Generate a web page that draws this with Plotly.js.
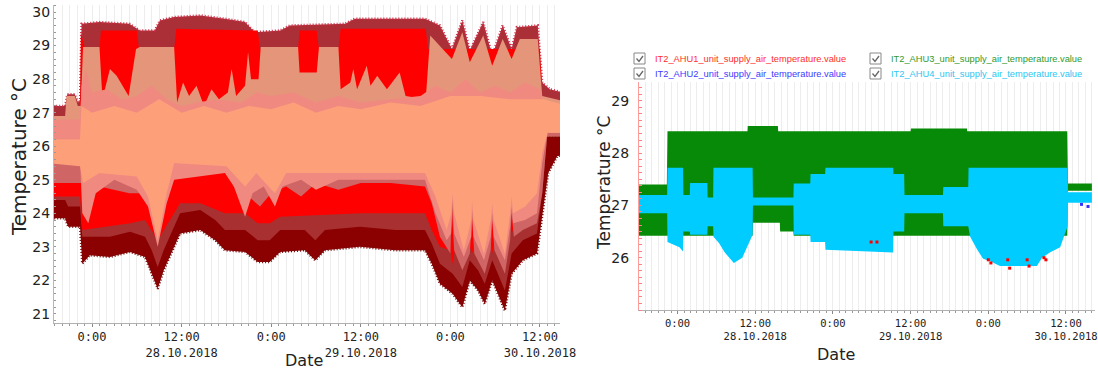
<!DOCTYPE html>
<html>
<head>
<meta charset="utf-8">
<script src="https://cdn.plot.ly/plotly-3.0.1.min.js"></script>
<style>
  html, body { margin: 0; padding: 0; background: #fff; }
  #chart { width: 1098px; height: 369px; }
</style>
</head>
<body>
<div id="chart"></div>
<script>
// Times are hours after 28.10.2018 00:00, values are °C.

// ---- Left panel: spread of the supply air temperatures (envelopes of each colour band) ----
const midLine      = [[-6,26],[60,26],[61,26.3],[64,26.3]];
const topEnvelope  = [[-6,27.2],[-3.6,27.2],[-3.3,27.55],[-2.3,27.55],[-1.9,27.3],[-1.6,27.35],[-1.4,29.65],[1,29.7],[5,29.65],[6.4,29.45],[8.4,29.45],[9.1,29.75],[11,29.85],[14.5,29.9],[17.8,29.8],[20.5,29.7],[21.8,29.4],[25.2,29.45],[26.5,29.6],[33.9,29.65],[35.2,29.8],[44.6,29.8],[46.6,29.6],[48.2,28.9],[49.6,29.75],[50.6,28.85],[52.4,29.7],[53.6,28.7],[55,29.6],[56.2,28.9],[56.9,29.55],[59.7,29.6],[60.3,27.9],[61.3,27.7],[64,27.55]];
const bottomEnvelope = [[-6,23.85],[-3.6,23.85],[-3.2,23.6],[-1.6,23.6],[-1.3,22.5],[-0.3,22.75],[2.4,22.7],[5.1,22.85],[7.1,22.7],[8,22.2],[8.8,21.75],[9.6,22.3],[10.4,22.7],[11.8,23.4],[14.5,23.5],[16.5,23.2],[17.8,22.9],[20.5,22.85],[22.2,22.55],[23.8,22.55],[25.2,22.85],[28.5,22.9],[29.9,22.6],[31.2,22.9],[35.9,23.0],[40.6,22.9],[44.6,22.9],[45.5,22.5],[46.6,21.9],[48.3,21.6],[49.6,21.2],[50.6,22.0],[51.7,21.7],[52.6,21.3],[53.6,22.0],[54.4,21.6],[55.3,21.1],[56.2,22.2],[57.7,22.6],[59.6,22.8],[60.3,24.0],[61.1,25.2],[62.3,25.7],[64,25.8]];
const brownLow     = [[-6,24.4],[-3.6,24.4],[-3.2,24.2],[-1.6,24.2],[-1.3,23.3],[2.4,23.3],[5.1,23.45],[7.1,23.3],[8,22.9],[8.8,22.4],[9.6,22.9],[10.4,23.3],[11.8,24.0],[14.5,24.1],[16.5,23.8],[17.8,23.5],[20.5,23.5],[22.2,23.2],[23.8,23.2],[25.2,23.5],[28.5,23.5],[29.9,23.2],[31.2,23.5],[35.9,23.6],[40.6,23.5],[44.6,23.5],[45.5,23.1],[46.6,22.5],[48.3,22.2],[49.6,21.8],[50.6,22.6],[51.7,22.3],[52.6,21.9],[53.6,22.6],[54.4,22.2],[55.3,21.7],[56.2,22.8],[57.7,23.2],[59.6,23.4],[60.3,24.6],[61,26.4],[64,26.4]];
const redHigh      = [[-6,26.9],[-1.6,26.9],[-1.5,29.4],[-0.9,28.9],[1.0,28.9],[1.2,29.45],[6.0,29.45],[6.3,28.9],[11.0,28.9],[11.3,29.5],[22.2,29.45],[22.5,28.9],[27.6,28.9],[27.8,29.45],[30.1,29.45],[30.4,28.9],[33.0,28.9],[33.3,29.5],[44.7,29.5],[45.0,28.9],[60.0,28.9],[60.3,27.0],[64,27.0]];
const redLow       = [[-6,24.5],[-1.6,24.5],[-1.3,23.5],[5.1,23.7],[7.1,23.8],[8.8,23.2],[10.4,23.8],[11.8,24.3],[14.5,24.3],[17.8,24.0],[20.5,24.0],[22.2,23.7],[23.8,23.7],[25.2,23.9],[35.9,24.0],[44.6,24.0],[45.5,23.5],[46.6,23.0],[48.0,22.9],[48.3,22.5],[48.6,22.9],[50.6,23.0],[50.9,22.8],[51.2,23.0],[53.4,23.2],[53.6,22.8],[53.9,23.2],[56.0,23.6],[56.2,23.4],[56.5,23.6],[59.6,23.8],[60.3,26.9],[64,26.9]];
const salmonHigh   = [[-6,26.9],[-3.6,26.9],[-3.4,27.5],[-2.3,27.5],[-1.9,27.2],[-1.5,27.2],[-1.2,28.96],[1.0,28.96],[1.4,27.4],[2.4,28.3],[3.3,28.1],[4.9,27.5],[5.9,28.9],[6.4,28.96],[11.0,28.96],[11.4,27.3],[12.2,27.9],[13,27.5],[14,27.8],[15,27.2],[16,27.7],[17,27.4],[18.2,27.6],[18.7,28.3],[19.3,27.5],[20.5,27.8],[20.9,28.8],[21.3,28.0],[22.3,28.0],[22.6,28.96],[27.6,28.96],[27.8,28.2],[30.1,28.2],[30.4,28.96],[33.0,28.96],[33.3,27.7],[34.6,27.9],[35.0,28.3],[35.5,27.7],[36.8,28.4],[37.3,27.8],[38.2,28.1],[39.5,27.7],[41.2,28.2],[42.0,27.5],[44.7,27.4],[45.3,29.3],[48.2,28.6],[49.6,29.4],[50.6,28.5],[52.4,29.3],[53.6,28.4],[55.0,29.2],[56.2,28.6],[57.3,29.2],[59.7,29.2],[60.3,27.5],[64,27.3]];
const roseLow      = [[-6,24.9],[-1.6,24.9],[1,24.8],[5,24.6],[7,24.6],[8.5,24.0],[10.2,25.0],[11,25.4],[17.8,25.4],[19,24.8],[21,24.5],[22.5,24.2],[24,24.6],[26,24.8],[28,24.5],[30,24.9],[33,24.7],[36,24.9],[40,24.9],[44.6,24.8],[45.5,24.3],[46.6,23.3],[48.0,22.8],[48.2,24.2],[48.5,22.9],[49.6,22.3],[50.6,22.8],[50.9,23.9],[51.2,22.8],[52.6,22.2],[53.4,22.9],[53.6,23.8],[53.9,22.9],[55.3,22.2],[56.0,23.2],[56.2,24.0],[56.5,23.3],[57.7,23.5],[59.6,23.7],[60.3,24.6],[61,26.4],[64,26.4]];
const coralHigh    = [[-6,26.8],[-1.6,26.8],[-1.4,27.8],[-0.8,28.3],[0,27.6],[2,27.7],[4,27.4],[6,27.5],[8,27.8],[10,27.4],[12,27.2],[14,27.3],[17,27.4],[20,27.3],[22,27.6],[24,27.5],[27,27.6],[30,27.3],[33,27.5],[36,27.3],[40,27.4],[44,27.5],[46,27.8],[48,27.6],[50,28.0],[52,27.6],[54,27.8],[56,27.6],[58,27.9],[60,27.7],[60.5,27.3],[64,27.2]];
const coralLow     = [[-6,25.6],[-1.6,25.6],[-1.3,24.0],[-0.5,23.7],[0.5,24.6],[3,25.0],[6,24.7],[7.5,24.2],[8.8,23.0],[10,24.3],[11,25.0],[17.8,25.2],[19,24.8],[20.5,23.9],[21.5,24.6],[23,24.8],[24.5,24.2],[25.5,24.8],[28,25.0],[30,24.7],[33,25.0],[40,25.0],[44.6,25.0],[46,24.0],[47.5,23.2],[48.1,23.4],[48.3,24.4],[48.5,23.4],[49.8,22.7],[50.8,23.3],[50.9,24.1],[51.1,23.3],[52.5,22.6],[53.4,23.3],[53.6,24.0],[53.8,23.3],[55.3,22.6],[56.0,23.6],[56.2,24.2],[56.4,23.7],[58,23.8],[59.6,24.0],[60.3,25.5],[61,26.4],[64,26.4]];
const coreHigh     = [[-6,26.2],[-1.6,26.2],[-1.4,27.2],[0,27.0],[3,27.2],[6,27.0],[9,27.4],[12,27.0],[15,27.2],[18,27.0],[21,27.2],[24,27.1],[27,27.3],[30,27.0],[33,27.2],[36,27.1],[40,27.3],[44,27.2],[48,27.5],[52,27.5],[56,27.4],[60,27.4],[60.5,27.4],[62,27.3],[64,27.2]];
const coreLow      = [[-6,25.5],[-1.6,25.4],[-1.2,24.9],[1,25.2],[6,25.1],[7.5,24.5],[8.8,23.2],[10,24.6],[11,25.5],[18,25.4],[20.5,24.8],[22,25.2],[24.5,24.6],[26,25.2],[30,25.2],[40,25.2],[44.6,25.2],[46,24.5],[47.5,23.5],[48.1,24.0],[48.3,24.6],[48.5,24.0],[49.8,22.9],[50.8,23.8],[50.9,24.4],[51.1,23.8],[52.5,22.8],[53.4,23.8],[53.6,24.3],[53.8,23.8],[55.3,22.8],[56.0,24.0],[56.2,24.5],[56.4,24.0],[58,24.2],[59.6,24.6],[60.3,25.8],[61,26.4],[64,26.4]];

// ---- Right panel: AHU1..AHU4 supply air temperature ----
const ahu3High = [[-6,27.4],[-1.65,27.4],[-1.55,28.42],[10.8,28.42],[10.85,28.52],[15.5,28.52],[15.55,28.42],[36,28.42],[36.05,28.47],[44.7,28.47],[44.75,28.42],[60.2,28.42],[60.3,27.42],[64,27.42]];
const ahu3Low  = [[-6,26.42],[11.6,26.42],[11.65,26.67],[15.8,26.67],[15.85,26.5],[17.9,26.5],[17.95,26.42],[60.2,26.42],[60.3,27.28],[64,27.28]];
const ahu4High = [[-6,27.2],[-1.6,27.2],[-1.55,27.72],[0.85,27.72],[0.9,27.2],[1.9,27.2],[1.95,27.43],[4.6,27.43],[4.65,27.15],[5.5,27.15],[5.55,27.72],[11.6,27.72],[11.65,27.15],[17.9,27.15],[17.95,27.42],[20.5,27.42],[20.55,27.6],[22.8,27.6],[22.85,27.72],[33.3,27.72],[33.35,27.6],[35,27.6],[35.05,27.2],[41,27.2],[41.05,27.35],[44.9,27.35],[44.95,27.72],[60.25,27.72],[60.3,27.25],[64,27.25]];
const ahu4Low  = [[-6,26.85],[-1.6,26.85],[-1.55,26.3],[0.3,26.2],[0.85,26.12],[0.9,26.5],[1.9,26.5],[1.95,26.44],[4.6,26.44],[4.65,26.6],[5.5,26.6],[5.55,26.4],[6.4,26.28],[7.3,26.1],[8.7,25.9],[10,26.0],[11,26.28],[11.6,26.44],[11.65,27.0],[17.9,27.0],[17.95,26.44],[20.5,26.44],[20.55,26.3],[22.8,26.3],[22.85,26.15],[33.3,26.1],[33.35,26.5],[35,26.5],[35.05,26.85],[41,26.85],[41.05,26.6],[44.9,26.6],[45.2,26.4],[46.3,26.15],[47.2,25.98],[48.3,25.93],[49.8,25.84],[55.5,25.84],[56.3,26.0],[57.5,26.1],[59.1,26.2],[60.25,26.6],[60.3,27.05],[64,27.05]];
const ahu1Points = [[29.9,26.3],[30.8,26.3],[48.0,25.96],[48.4,25.9],[51.0,25.96],[51.3,25.8],[54.0,25.96],[54.3,25.84],[56.6,26.0],[56.9,25.96]];
const ahu2Points = [[62.4,27.02],[63.4,26.98]];

const legendNames  = ['IT2_AHU1_unit_supply_air_temperature.value','IT2_AHU2_unit_supply_air_temperature.value','IT2_AHU3_unit_supply_air_temperature.value','IT2_AHU4_unit_supply_air_temperature.value'];
const legendColors = ['#ff2d2d','#3b3bff','#2f9a2f','#2ec6f2'];

const tickHours = [0, 12, 24, 36, 48, 60];
const tickText  = ['0:00', '12:00<br>28.10.2018', '0:00', '12:00<br>29.10.2018', '0:00', '12:00<br>30.10.2018'];

// ---- helpers ----
const BASE = Date.UTC(2018, 9, 28);
function toDate(h) { return new Date(BASE + h * 3600000).toISOString().slice(0, 19).replace('T', ' '); }
function band(upper, lower, color, xa, ya, edge) {
  const lo = lower.slice().reverse();
  return {
    type: 'scatter', mode: 'lines', xaxis: xa, yaxis: ya,
    x: upper.map(p => toDate(p[0])).concat(lo.map(p => toDate(p[0]))),
    y: upper.map(p => p[1]).concat(lo.map(p => p[1])),
    fill: 'toself', fillcolor: color,
    line: edge ? { width: 2.5, color: edge, dash: '1px,2px' } : { width: 0, color: color },
    hoverinfo: 'skip', showlegend: false
  };
}
function dots(points, color, xa, ya) {
  return {
    type: 'scatter', mode: 'markers', xaxis: xa, yaxis: ya,
    x: points.map(p => toDate(p[0])), y: points.map(p => p[1]),
    marker: { symbol: 'square', size: 3, color: color }, hoverinfo: 'skip', showlegend: false
  };
}

const traces = [
  band(topEnvelope, midLine, '#ab2f37', 'x', 'y', '#cf2a45'),
  band(midLine, bottomEnvelope, '#8b0000', 'x', 'y', '#7a0a0a'),
  band(midLine, brownLow, '#a83030', 'x', 'y'),
  band(redHigh, redLow, '#ff0000', 'x', 'y'),
  band(salmonHigh, midLine, '#e5957a', 'x', 'y'),
  band(midLine, roseLow, '#cf6565', 'x', 'y'),
  band(coralHigh, coralLow, '#f08a80', 'x', 'y'),
  band(coreHigh, coreLow, '#fda07a', 'x', 'y'),

  band(ahu3High, ahu3Low, '#078a07', 'x2', 'y2'),
  band(ahu4High, ahu4Low, '#00ccff', 'x2', 'y2'),
  dots(ahu1Points, '#ff0000', 'x2', 'y2'),
  dots(ahu2Points, '#3030ff', 'x2', 'y2')
];

const W = 1098, H = 369;
const px = v => v / W, py = v => 1 - v / H;

function timeAxis(domain, h0, h1, fontSize) {
  return {
    type: 'date', domain: domain, range: [toDate(h0), toDate(h1)],
    tickmode: 'array', tickvals: tickHours.map(toDate), ticktext: tickText,
    tickfont: { family: 'DejaVu Sans Mono', size: fontSize, color: '#222' },
    ticks: 'outside', ticklen: 3, tickcolor: '#888',
    showgrid: false, showline: true, linecolor: '#b0b0b0', linewidth: 1,
    zeroline: false, fixedrange: true,
    minor: { tickmode: 'linear', tick0: toDate(0), dtick: 3600000, ticks: 'outside', ticklen: 2, tickcolor: '#999', showgrid: true, gridcolor: '#ededed', gridwidth: 1 }
  };
}

const layout = {
  width: W, height: H, margin: { l: 0, r: 0, t: 0, b: 0 },
  paper_bgcolor: '#fff', plot_bgcolor: '#fff', showlegend: false,
  font: { family: 'DejaVu Sans', color: '#222' },
  xaxis: timeAxis([px(54), px(560)], -5.09, 62.68, 12),
  yaxis: {
    domain: [py(323), py(5)], range: [20.73, 30.21], tickvals: [21,22,23,24,25,26,27,28,29,30],
    tickfont: { family: 'DejaVu Sans', size: 14, color: '#222' },
    ticks: '', showgrid: false, showline: true, linecolor: '#b8b8b8', zeroline: false,
    ticklabelstandoff: 0,
    minor: { dtick: 0.2, ticks: 'inside', ticklen: 2, tickcolor: '#999' }
  },
  xaxis2: Object.assign(timeAxis([px(639), px(1095)], -5.95, 64.48, 10.5), { anchor: 'y2' }),
  yaxis2: {
    domain: [py(310), py(82)], range: [25.0, 29.36], tickvals: [26,27,28,29], anchor: 'x2',
    tickfont: { family: 'DejaVu Sans', size: 14, color: '#222' },
    ticks: '', showgrid: false, showline: true, linecolor: '#ff9c9c', zeroline: false,
    ticklabelstandoff: 6,
    minor: { dtick: 0.125, ticks: 'inside', ticklen: 3, tickcolor: '#ff8080' }
  },
  annotations: [
    { text: 'Temperature °C', x: px(19), y: py(157), xref: 'paper', yref: 'paper', xanchor: 'center', yanchor: 'middle', showarrow: false, textangle: -90, font: { size: 20, color: '#222' } },
    { text: 'Temperature °C', x: px(604), y: py(183), xref: 'paper', yref: 'paper', xanchor: 'center', yanchor: 'middle', showarrow: false, textangle: -90, font: { size: 17, color: '#222' } },
    { text: 'Date', x: px(304), y: py(360), xref: 'paper', yref: 'paper', xanchor: 'center', yanchor: 'middle', showarrow: false, font: { size: 16, color: '#222' } },
    { text: 'Date', x: px(836), y: py(354), xref: 'paper', yref: 'paper', xanchor: 'center', yanchor: 'middle', showarrow: false, font: { size: 16, color: '#222' } }
  ],
  shapes: []
};

// legend with check boxes, two columns
const legendCols = [634, 870], legendRows = [53, 68];
legendNames.forEach((name, i) => {
  const col = i < 2 ? 0 : 1, row = i % 2;
  const x0 = legendCols[col], y0 = legendRows[row];
  layout.shapes.push({ type: 'rect', xref: 'paper', yref: 'paper', x0: px(x0), x1: px(x0 + 11), y0: py(y0), y1: py(y0 + 11), line: { color: '#888', width: 1 }, fillcolor: '#fff' });
  layout.shapes.push({ type: 'path', xref: 'paper', yref: 'paper',
    path: `M ${px(x0 + 2.5)} ${py(y0 + 5.5)} L ${px(x0 + 5)} ${py(y0 + 8.5)} L ${px(x0 + 9)} ${py(y0 + 3)}`,
    line: { color: '#666', width: 1.3 } });
  layout.annotations.push({ text: name, x: px(x0 + 19), y: py(y0 + 5.5), xref: 'paper', yref: 'paper', xanchor: 'left', yanchor: 'middle', showarrow: false,
    font: { family: 'Liberation Sans', size: 9.3, color: legendColors[i] } });
});

Plotly.newPlot('chart', traces, layout, { staticPlot: true, displayModeBar: false });
</script>
</body>
</html>
